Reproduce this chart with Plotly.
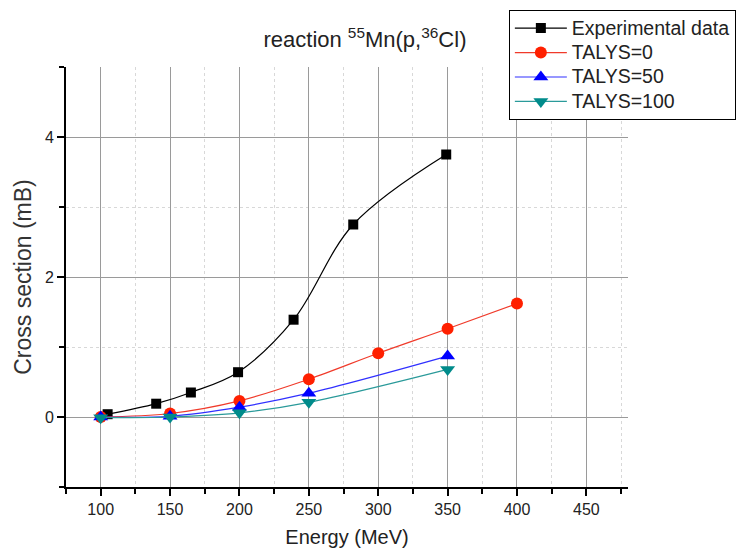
import plotly.graph_objects as go

# Data
exp_e = [105, 140, 165, 199, 239, 282, 349]
exp_cs = [0.04, 0.19, 0.35, 0.64, 1.39, 2.75, 3.75]

t0_e = [100, 150, 200, 250, 300, 350, 400]
t0_cs = [0.0, 0.05, 0.23, 0.54, 0.91, 1.26, 1.62]

t50_e = [100, 150, 200, 250, 350]
t50_cs = [0.0, 0.01, 0.14, 0.34, 0.87]

t100_e = [100, 150, 200, 250, 350]
t100_cs = [-0.01, 0.0, 0.06, 0.21, 0.68]

x_ticks = [100, 150, 200, 250, 300, 350, 400, 450]
x_minor = [75, 125, 175, 225, 275, 325, 375, 425, 475]
y_ticks = [0, 2, 4]
y_minor = [-1, 1, 3, 5]

series = [
    ("Experimental data", exp_e, exp_cs, "black", "black", "square", 10),
    ("TALYS=0", t0_e, t0_cs, "#f03a2a", "#ff2000", "circle", 12),
    ("TALYS=50", t50_e, t50_cs, "#3030ff", "#0000ff", "triangle-up", 13),
    ("TALYS=100", t100_e, t100_cs, "#2a9a9a", "#008b8b", "triangle-down", 13),
]

fig = go.Figure()
for name, x, y, lc, mc, sym, sz in series:
    fig.add_trace(go.Scatter(
        x=x, y=y, name='<span style="font-size:19.5px">' + name + '</span>',
        mode="lines+markers",
        line=dict(color=lc, width=1.2, shape="spline", smoothing=1.0),
        marker=dict(color=mc, symbol=sym, size=sz, line=dict(width=0)),
    ))

font_family = "Liberation Sans, Arial, sans-serif"

fig.update_layout(
    width=736, height=550,
    margin=dict(l=66, r=108, t=67, b=63, autoexpand=False),
    paper_bgcolor="white", plot_bgcolor="white",
    font=dict(family=font_family, color="#222222", size=16),
    title=dict(
        text="reaction <sup>55</sup>Mn(p,<sup>36</sup>Cl)",
        x=0.532, xref="paper", xanchor="center",
        y=0.928, yref="container", yanchor="middle",
        font=dict(size=22, color="#222222"),
    ),
    legend=dict(
        x=0.788, xref="paper", xanchor="left",
        y=1.136, yref="paper", yanchor="top",
        bordercolor="black", borderwidth=1, bgcolor="white",
        font=dict(size=16.5, color="#222222"),
        itemwidth=52,
        tracegroupgap=0,
    ),
    showlegend=True,
)

fig.update_xaxes(
    range=[75, 480], tickvals=x_ticks,
    showline=True, linecolor="black", linewidth=2,
    ticks="outside", ticklen=7, tickwidth=2, tickcolor="black",
    showgrid=True, gridcolor="#9a9a9a", gridwidth=1,
    minor=dict(tickvals=x_minor,
               ticks="outside", ticklen=5, tickwidth=1.5, tickcolor="black",
               showgrid=True, gridcolor="#d8d8d8", griddash="dot", gridwidth=1),
    zeroline=False,
    title=dict(text="Energy (MeV)", font=dict(size=20), standoff=13),
    tickfont=dict(size=16),
)
fig.update_yaxes(
    range=[-1, 5], tickvals=y_ticks,
    showline=True, linecolor="black", linewidth=2,
    ticks="outside", ticklen=7, tickwidth=2, tickcolor="black",
    showgrid=True, gridcolor="#9a9a9a", gridwidth=1,
    minor=dict(tickvals=y_minor,
               ticks="outside", ticklen=5, tickwidth=1.5, tickcolor="black",
               showgrid=True, gridcolor="#d8d8d8", griddash="dot", gridwidth=1),
    zeroline=False,
    title=dict(text="Cross section (mB)", font=dict(size=23, color="#333333"), standoff=7),
    tickfont=dict(size=16),
)

fig.write_html("out.html")
